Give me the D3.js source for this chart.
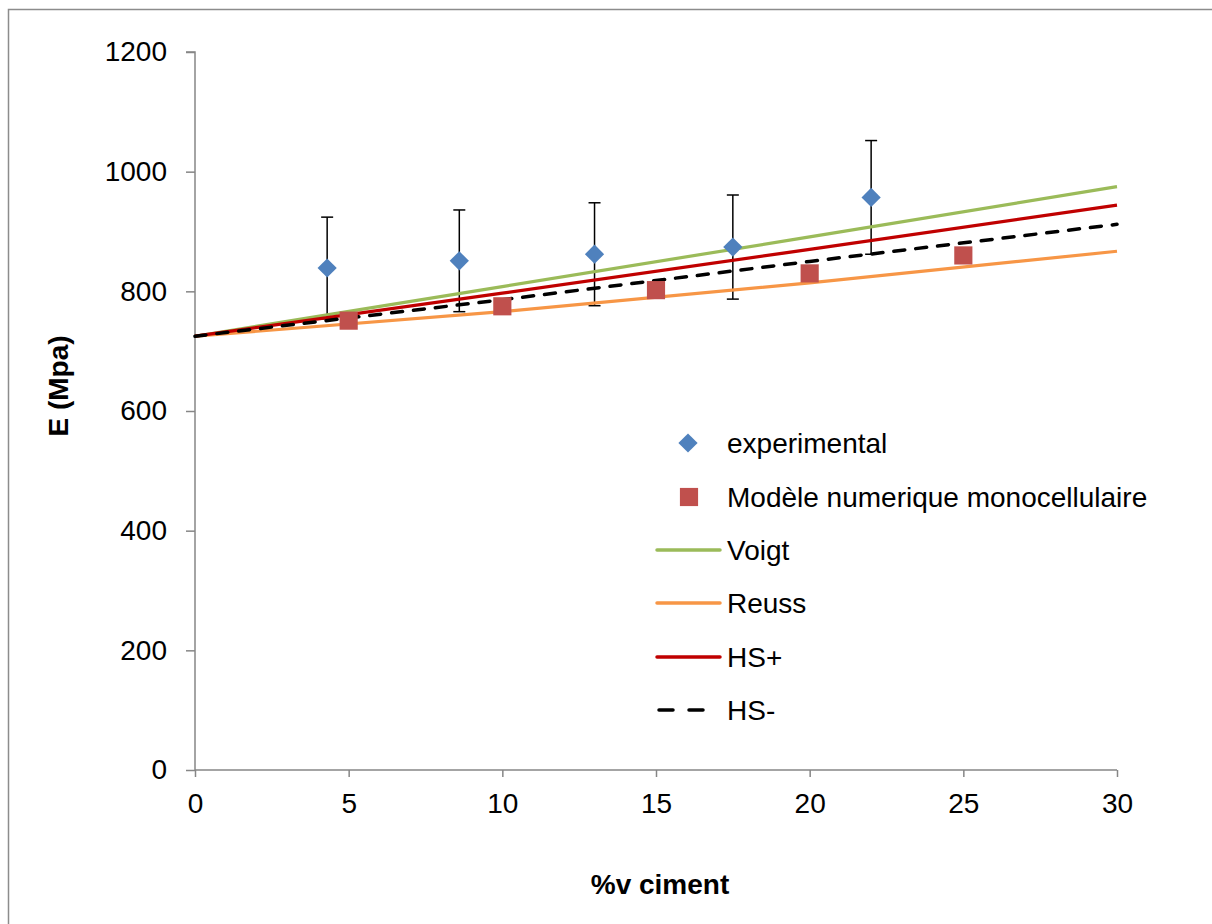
<!DOCTYPE html>
<html>
<head>
<meta charset="utf-8">
<script src="https://cdn.jsdelivr.net/npm/d3@7"></script>
<style>
  html, body { margin: 0; padding: 0; background: #fff; }
  svg { display: block; font-family: "Liberation Sans", Arial, sans-serif; }
</style>
</head>
<body>
<svg id="chart" width="1212" height="924"></svg>
<script>
// ---- data ----
const expX = [4.3, 8.6, 13, 17.5, 22];
const expY = [839, 851, 862, 874, 957];
const expErr = [85, 85, 86, 87, 95];

const modelX = [5, 10, 15, 20, 25];
const modelY = [751, 775, 802, 830, 860];

const boundX = [0, 10, 20, 30];
const voigtY = [725, 808, 891, 975];
const reussY = [725, 766, 814, 867];
const hsPlusY = [725, 797, 870, 944];
const hsMinusY = [725, 786, 850, 912];

const xTicks = [0, 5, 10, 15, 20, 25, 30];
const yTicks = [0, 200, 400, 600, 800, 1000, 1200];

const legendLabels = ["experimental", "Modèle numerique monocellulaire", "Voigt", "Reuss", "HS+", "HS-"];

// ---- layout ----
const svg = d3.select("#chart");
const x = d3.scaleLinear().domain([0, 30]).range([195, 1117]);
const y = d3.scaleLinear().domain([0, 1200]).range([770, 52]);

const axisColor = "#868686";

// outer border
svg.append("path")
  .attr("d", "M8.5,930 L8.5,9.5 L1220,9.5")
  .attr("fill", "none").attr("stroke", "#8c8c8c").attr("stroke-width", 1.5);

// axes
const yAxis = d3.axisLeft(y).tickValues(yTicks).tickSize(9).tickPadding(19).tickFormat(d3.format("d"));
const gy = svg.append("g").attr("transform", `translate(${x(0)},0)`).call(yAxis);
const xAxis = d3.axisBottom(x).tickValues(xTicks).tickSize(7).tickPadding(16).tickFormat(d3.format("d"));
const gx = svg.append("g").attr("transform", `translate(0,${y(0)})`).call(xAxis);
[gx, gy].forEach(g => {
  g.select(".domain").attr("stroke", axisColor).attr("stroke-width", 1.5);
  g.selectAll(".tick line").attr("stroke", axisColor).attr("stroke-width", 1.5);
  g.selectAll(".tick text").attr("fill", "#000").style("font-size", "28px")
    .style("font-family", "'Liberation Sans', Arial, sans-serif");
});
gy.select(".domain").attr("d", `M-9,${y(1200)}H0V${y(0)}`);
gx.select(".domain").attr("d", `M${x(0)},0H${x(30)}`);

// axis titles
svg.append("text").attr("x", 660).attr("y", 894).attr("text-anchor", "middle")
  .style("font-size", "28px").style("font-weight", "bold").text("%v ciment");
svg.append("text").attr("transform", "translate(68,386) rotate(-90)").attr("text-anchor", "middle")
  .style("font-size", "28px").style("font-weight", "bold").text("E (Mpa)");

// error bars
const eb = svg.append("g").attr("stroke", "#000").attr("stroke-width", 1.5);
expX.forEach((xv, i) => {
  const cx = x(xv), top = y(expY[i] + expErr[i]), bot = y(expY[i] - expErr[i]);
  eb.append("line").attr("x1", cx).attr("x2", cx).attr("y1", top).attr("y2", bot);
  eb.append("line").attr("x1", cx - 6).attr("x2", cx + 6).attr("y1", top).attr("y2", top);
  eb.append("line").attr("x1", cx - 6).attr("x2", cx + 6).attr("y1", bot).attr("y2", bot);
});

// bound lines
const line = d3.line().x(d => x(d[0])).y(d => y(d[1]));
const series = [
  { vals: voigtY, color: "#9BBB59", dash: null },
  { vals: reussY, color: "#F79646", dash: null },
  { vals: hsPlusY, color: "#C00000", dash: null },
  { vals: hsMinusY, color: "#000000", dash: "11,11" }
];
series.forEach(s => {
  svg.append("path").datum(boundX.map((xv, i) => [xv, s.vals[i]]))
    .attr("d", line).attr("fill", "none").attr("stroke", s.color)
    .attr("stroke-width", s.dash ? 3.5 : 3.2)
    .attr("stroke-linecap", s.dash ? "round" : "butt")
    .attr("stroke-dasharray", s.dash);
});

// markers
const diamond = d3.symbol().type(d3.symbolSquare).size(185);
svg.append("g").selectAll("path").data(expX).join("path")
  .attr("d", diamond)
  .attr("transform", (d, i) => `translate(${x(d)},${y(expY[i])}) rotate(45)`)
  .attr("fill", "#4F81BD");
const square = d3.symbol().type(d3.symbolSquare).size(330);
svg.append("g").selectAll("path").data(modelX).join("path")
  .attr("d", square)
  .attr("transform", (d, i) => `translate(${x(d)},${y(modelY[i])})`)
  .attr("fill", "#C0504D");

// legend
const lg = svg.append("g");
const rowY = [443, 497, 550, 603, 657, 710];
const textX = 727;
lg.append("path").attr("d", d3.symbol().type(d3.symbolSquare).size(185))
  .attr("transform", `translate(688,${rowY[0]}) rotate(45)`).attr("fill", "#4F81BD");
lg.append("path").attr("d", d3.symbol().type(d3.symbolSquare).size(330))
  .attr("transform", `translate(689,${rowY[1]})`).attr("fill", "#C0504D");
series.forEach((s, i) => {
  lg.append("line").attr("x1", s.dash ? 659 : 657).attr("x2", s.dash ? 703 : 720)
    .attr("y1", rowY[i + 2]).attr("y2", rowY[i + 2])
    .attr("stroke", s.color).attr("stroke-width", 3.5)
    .attr("stroke-linecap", "round")
    .attr("stroke-dasharray", s.dash ? "14,16" : null);
});
legendLabels.forEach((t, i) => {
  lg.append("text").attr("x", textX).attr("y", rowY[i]).attr("dy", "0.35em")
    .style("font-size", "28px").text(t);
});
</script>
</body>
</html>
